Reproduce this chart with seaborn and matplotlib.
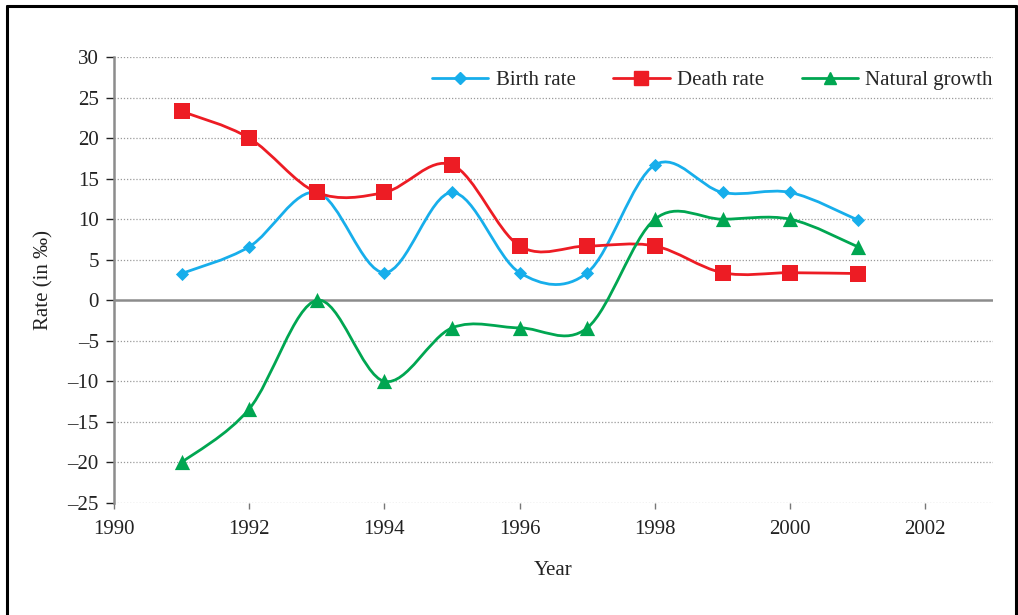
import numpy as np
import matplotlib
matplotlib.use("Agg")
import matplotlib.pyplot as plt
import seaborn as sns
from matplotlib.path import Path
from matplotlib.patches import PathPatch
from matplotlib.lines import Line2D

years = [1991, 1992, 1993, 1994, 1995, 1996, 1997, 1998, 1999, 2000, 2001]
birth_rate = [3.3, 6.6, 13.3, 3.4, 13.3, 3.4, 3.4, 16.7, 13.3, 13.3, 9.9]
death_rate = [23.3, 20.0, 13.3, 13.3, 16.7, 6.7, 6.7, 6.7, 3.4, 3.4, 3.3]
natural_growth = [-20.0, -13.4, 0.0, -10.0, -3.4, -3.4, -3.4, 10.0, 10.0, 10.0, 6.6]

series_names = ["Birth rate", "Death rate", "Natural growth"]
series_colors = ["#17AEEB", "#ED1C24", "#00A651"]
series_markers = ["D", "s", "^"]
marker_sizes = [45, 130, 120]

x_ticks = [1990, 1992, 1994, 1996, 1998, 2000, 2002]
y_ticks = [-25, -20, -15, -10, -5, 0, 5, 10, 15, 20, 25, 30]

sns.set_theme(style="white")
plt.rcParams["font.family"] = ["Liberation Serif", "DejaVu Serif"]
plt.rcParams["axes.unicode_minus"] = False


def smooth_path(xs, ys):
    # Excel-style smoothed line: cubic Bezier through every point
    pts = np.column_stack([xs, ys]).astype(float)
    n = len(pts)
    verts = [pts[0]]
    codes = [Path.MOVETO]
    for i in range(n - 1):
        p0 = pts[i - 1] if i > 0 else pts[i]
        p1 = pts[i]
        p2 = pts[i + 1]
        p3 = pts[i + 2] if i + 2 < n else pts[i + 1]
        c1 = p1 + (p2 - p0) / 6.0
        c2 = p2 - (p3 - p1) / 6.0
        verts += [c1, c2, p2]
        codes += [Path.CURVE4] * 3
    return Path(verts, codes)


fig = plt.figure(figsize=(10.18, 6.15), dpi=100)
ax = fig.add_axes([0.112, 0.1821, 0.8634, 0.7252])

for y in y_ticks:
    if y != 0:
        ax.axhline(y, color="#9a9a9a", lw=0.9, ls=(0, (1, 1.5)), zorder=0)
ax.axhline(0, color="#8c8c8c", lw=1.8, zorder=1)

handles = []
for vals, name, col, mk, ms in zip([birth_rate, death_rate, natural_growth],
                                   series_names, series_colors, series_markers, marker_sizes):
    ax.add_patch(PathPatch(smooth_path(years, vals), facecolor="none",
                           edgecolor=col, lw=2.0, zorder=3))
    sns.scatterplot(x=years, y=vals, marker=mk, color=col, s=ms,
                    edgecolor=col, linewidth=0, ax=ax, zorder=4)
    handles.append(Line2D([0], [0], color=col, lw=2.0, marker=mk,
                          markersize=np.sqrt(ms) * 0.85, label=name))

ax.set_xlim(1990, 2003)
ax.set_ylim(-25, 30)
ax.set_xticks(x_ticks)
ax.set_yticks(y_ticks)
ax.set_yticklabels([str(v).replace("-", "\u2013") for v in y_ticks])
ax.tick_params(axis="y", length=6, width=1, color="#222222", pad=5,
               labelsize=15, labelcolor="#222222", left=True)
ax.tick_params(axis="x", length=4, width=1, color="#777777", pad=8,
               labelsize=15, labelcolor="#222222", bottom=True)

for side in ["top", "right", "bottom"]:
    ax.spines[side].set_visible(False)
ax.spines["left"].set_color("#8c8c8c")
ax.spines["left"].set_linewidth(1.8)

ax.set_xlabel("Year", fontsize=15, color="#222222", labelpad=16)
ax.set_ylabel("Rate (in \u2030)", fontsize=15, color="#222222", labelpad=10)

ax.legend(handles=handles, loc="upper right", ncol=3, frameon=False,
          fontsize=15, handlelength=2.7, columnspacing=1.82,
          handletextpad=0.35, borderaxespad=0, borderpad=0,
          bbox_to_anchor=(1.0, 0.969))

# outer frame (open at the bottom)
for xs, ys in [([0.0069, 0.0069], [0.0, 0.9905]),
               ([0.0069, 0.9980], [0.9905, 0.9905]),
               ([0.9980, 0.9980], [0.0, 0.9905])]:
    fig.add_artist(Line2D(xs, ys, color="black", lw=2.2, transform=fig.transFigure))

fig.savefig("out.png", dpi=100, facecolor="white")
